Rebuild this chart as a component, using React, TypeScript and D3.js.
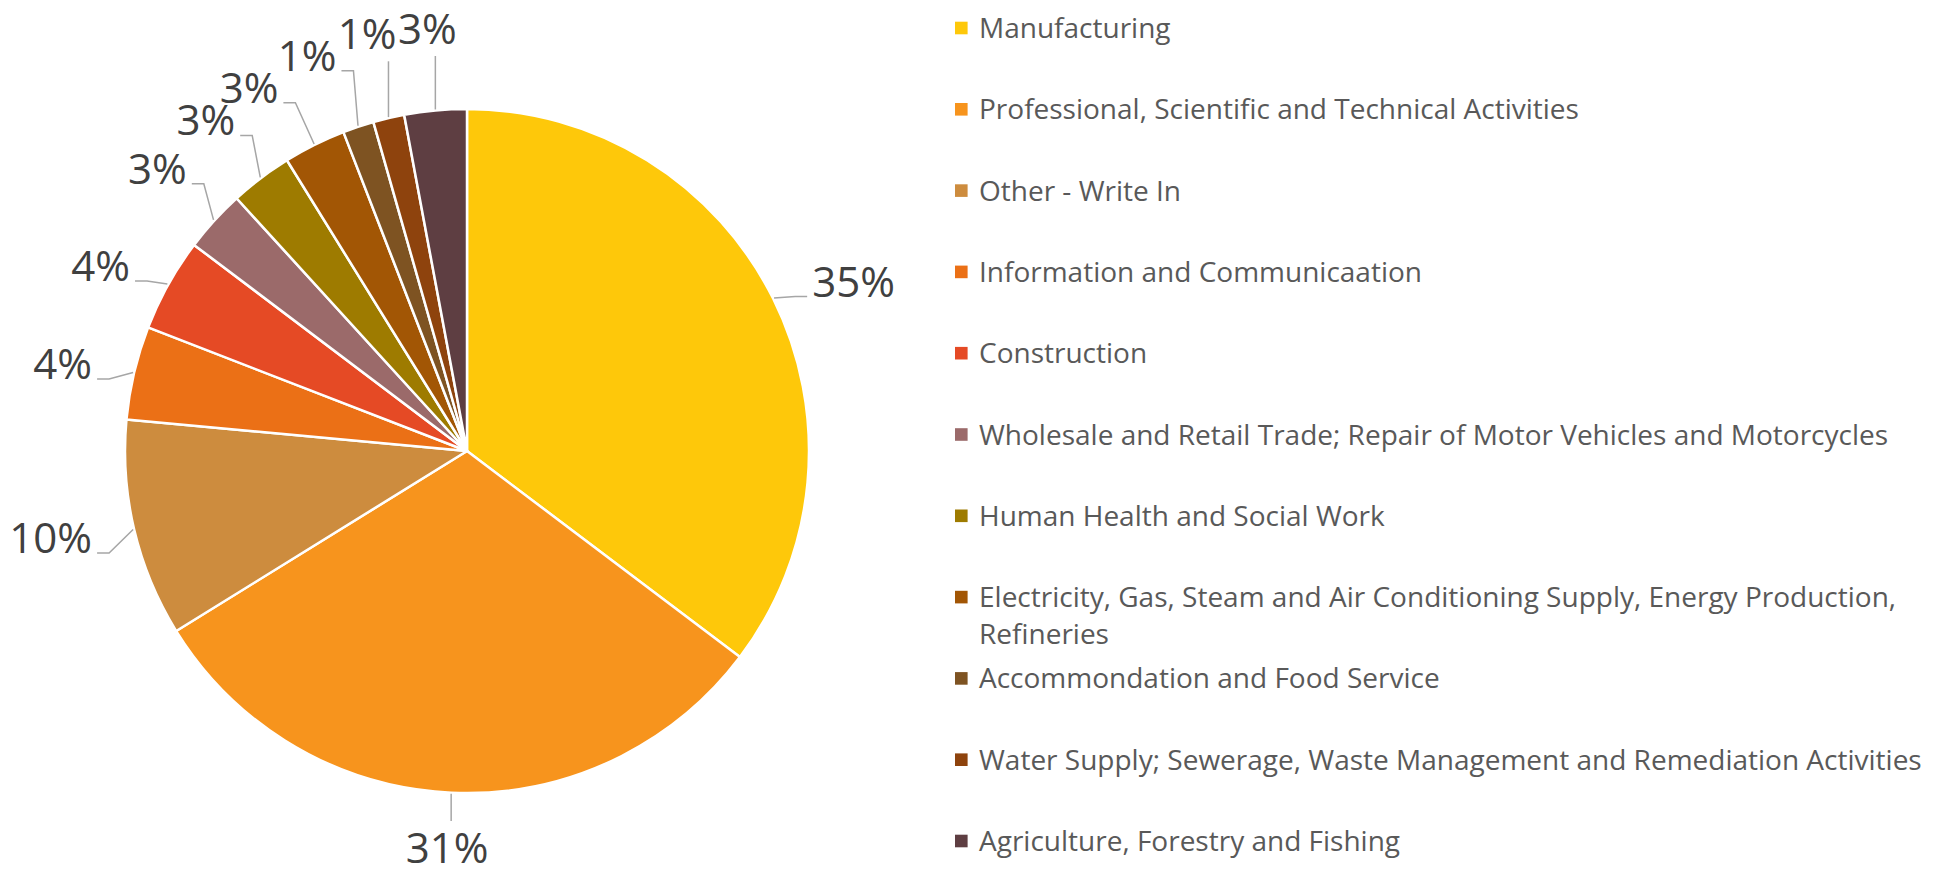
import React, { useMemo } from "react";
import * as d3 from "d3";

const categories = [
  "Manufacturing",
  "Professional, Scientific and Technical Activities",
  "Other - Write In",
  "Information and Communicaation",
  "Construction",
  "Wholesale and Retail Trade; Repair of Motor Vehicles and Motorcycles",
  "Human Health and Social Work",
  "Electricity, Gas, Steam and Air Conditioning Supply, Energy Production, Refineries",
  "Accommondation and Food Service",
  "Water Supply; Sewerage, Waste Management and Remediation Activities",
  "Agriculture, Forestry and Fishing",
];
const counts = [24, 21, 7, 3, 3, 2, 2, 2, 1, 1, 2];
const colors = [
  "#FEC80A", "#F7941D", "#CD8C3E", "#EB7016", "#E54A25", "#9B6A6A",
  "#9E7B00", "#A25605", "#7E5322", "#8E430D", "#5E3E42",
];

const W = 1958;
const H = 875;
const CX = 467;
const CY = 451;
const R = 342;

const LABEL_FONT_SIZE = 42;
const LEGEND_FONT_SIZE = 28;
const FONT = "'Open Sans', 'Noto Sans', sans-serif";

let ctx: CanvasRenderingContext2D | null = null;
function measure(text: string, size: number) {
  if (!ctx) ctx = document.createElement("canvas").getContext("2d");
  if (!ctx) return text.length * size * 0.5;
  ctx.font = `${size}px 'Open Sans'`;
  return ctx.measureText(text).width;
}

function polar(rad: number, a: number): [number, number] {
  return [CX + rad * Math.sin(a), CY - rad * Math.cos(a)];
}

function wrap(text: string, size: number, maxW: number) {
  const words = text.split(" ");
  const lines: string[] = [];
  let cur = "";
  for (const w of words) {
    const t = cur ? cur + " " + w : w;
    if (measure(t, size) > maxW && cur) {
      lines.push(cur);
      cur = w;
    } else cur = t;
  }
  if (cur) lines.push(cur);
  return lines;
}

export default function App() {
  const total = d3.sum(counts);
  const arcs = d3.pie<number>().sort(null).value((d) => d)(counts);
  const arcGen = d3.arc<d3.PieArcDatum<number>>().innerRadius(0).outerRadius(R);
  const fmt = d3.format(".0%");

  const labels = useMemo(() => {
    const halfH = (LABEL_FONT_SIZE * 0.714) / 2;
    const place = (mid: number, w: number) => {
      const s = Math.sin(mid);
      const c = Math.cos(mid);
      let cx: number, cy: number;
      if (Math.abs(s) > 0.85) {
        const p = polar(R + 38, mid);
        cx = p[0] + Math.sign(s) * (w / 2 + 5);
        cy = p[1];
      } else {
        const off = 74 + 14 * Math.pow(c, 4);
        const p = polar(R + off, mid);
        cx = p[0];
        cy = p[1];
      }
      cy = Math.min(H - halfH - 12, Math.max(44 - halfH, cy));
      return [cx, cy];
    };
    const items = arcs.map((a, i) => {
      const mid = (a.startAngle + a.endAngle) / 2;
      const text = fmt(counts[i] / total);
      const w = measure(text, LABEL_FONT_SIZE);
      const [cx, cy] = place(mid, w);
      return { i, mid, lmid: mid, text, w, cx, cy };
    });
    // relax crowded labels in the upper-left quadrant, rotating counter-clockwise
    const order = items
      .filter((d) => d.mid > Math.PI * 1.5)
      .sort((a, b) => b.mid - a.mid);
    const placed: typeof items = [];
    const overlaps = (a: any, b: any) =>
      Math.abs(a.cx - b.cx) < (a.w + b.w) / 2 + 1 &&
      Math.abs(a.cy - b.cy) < halfH * 2 + 2;
    for (const d of order) {
      let guard = 0;
      while (placed.some((p) => overlaps(p, d)) && guard < 400) {
        d.lmid -= (0.25 * Math.PI) / 180;
        const [cx, cy] = place(d.lmid, d.w);
        d.cx = cx;
        d.cy = cy;
        guard++;
      }
      placed.push(d);
    }
    return items.map((d) => {
      const E = polar(R + 1, d.mid);
      const x0 = d.cx - d.w / 2;
      const x1 = d.cx + d.w / 2;
      const yBase = d.cy + halfH;
      const yTop = d.cy - halfH;
      let pts: [number, number][];
      if (E[0] > x1 + 4) {
        const sx = x1 + 5;
        const ex = Math.min(x1 + 17, E[0] - 2);
        pts = [[sx, yBase], [ex, yBase], E];
      } else if (E[0] < x0 - 4) {
        const sx = x0 - 5;
        const ex = Math.max(x0 - 17, E[0] + 2);
        pts = [[sx, yBase], [ex, yBase], E];
      } else if (d.cy < E[1]) {
        pts = [[E[0], yBase + 12], E];
      } else {
        pts = [[E[0], yTop - 12], E];
      }
      return { ...d, baseline: yBase, pts };
    });
  }, []);

  const line = d3.line();
  const rowGap = 81.3;
  const legendY0 = 28;
  const legendX = 955;
  const textX = 979;

  return (
    <svg
      width={W}
      height={H}
      viewBox={`0 0 ${W} ${H}`}
      style={{ position: "absolute", left: 0, top: 0, background: "#fff" }}
    >
      <rect x={0} y={0} width={W} height={H} fill="#fff" />
      <g transform={`translate(${CX},${CY})`}>
        {arcs.map((a, i) => (
          <path
            key={i}
            d={arcGen(a) || ""}
            fill={colors[i]}
            stroke="#fff"
            strokeWidth={2.5}
            strokeLinejoin="round"
          />
        ))}
      </g>
      <g>
        {labels.map((l) => (
          <path
            key={"l" + l.i}
            d={line(l.pts) || ""}
            fill="none"
            stroke="#A6A6A6"
            strokeWidth={1.5}
          />
        ))}
        {labels.map((l) => (
          <text
            key={"t" + l.i}
            x={l.cx}
            y={l.baseline}
            textAnchor="middle"
            fontFamily={FONT}
            fontSize={LABEL_FONT_SIZE}
            fill="#404040"
          >
            {l.text}
          </text>
        ))}
      </g>
      <g>
        {categories.map((c, i) => {
          const y = legendY0 + i * rowGap;
          const lines = wrap(c, LEGEND_FONT_SIZE, W - textX - 6);
          return (
            <g key={c}>
              <rect x={legendX} y={y - 6.3} width={12.6} height={12.6} fill={colors[i]} />
              <text
                x={textX}
                y={y + 10}
                fontFamily={FONT}
                fontSize={LEGEND_FONT_SIZE}
                fill="#595959"
              >
                {lines.map((ln, k) => (
                  <tspan key={k} x={textX} dy={k === 0 ? 0 : 37}>
                    {ln}
                  </tspan>
                ))}
              </text>
            </g>
          );
        })}
      </g>
    </svg>
  );
}
